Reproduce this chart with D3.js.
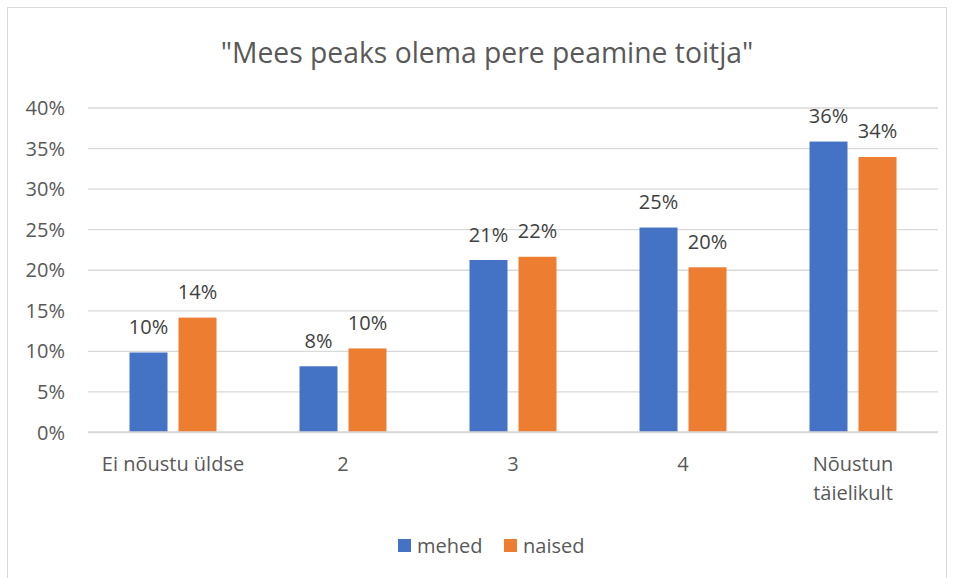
<!DOCTYPE html>
<html>
<head>
<meta charset="utf-8">
<script src="https://cdn.jsdelivr.net/npm/d3@7"></script>
<style>
  html, body { margin: 0; padding: 0; background: #fff; }
  svg { display: block; }
  text { font-family: "Open Sans", "Noto Sans", sans-serif; }
</style>
</head>
<body>
<svg id="chart" width="954" height="578"></svg>
<script>
const title = '"Mees peaks olema pere peamine toitja"';
const categories = ["Ei nõustu üldse", "2", "3", "4", "Nõustun täielikult"];
const seriesNames = ["mehed", "naised"];
const mehed = [9.8, 8.1, 21.2, 25.2, 35.8];
const naised = [14.1, 10.3, 21.6, 20.3, 33.9];
const mehedLabels = ["10%", "8%", "21%", "25%", "36%"];
const naisedLabels = ["14%", "10%", "22%", "20%", "34%"];
const yTicks = [0, 5, 10, 15, 20, 25, 30, 35, 40];
const colors = ["#4472C4", "#ED7D31"];

const svg = d3.select("#chart");
const plotL = 88, plotR = 938, plotT = 107.5, plotB = 432;
const fs = 20;

// frame
svg.append("rect").attr("x", 7.5).attr("y", 7.5).attr("width", 939).attr("height", 600)
  .attr("fill", "#fff").attr("stroke", "#D9D9D9").attr("stroke-width", 1);

const x0 = d3.scaleBand().domain(categories).range([plotL, plotR]).paddingInner(0).paddingOuter(0);
const groupW = 87;
const x1 = d3.scaleBand().domain(seriesNames)
  .range([(x0.bandwidth() - groupW) / 2, (x0.bandwidth() + groupW) / 2])
  .paddingInner(11 / 49).paddingOuter(0);
const y = d3.scaleLinear().domain([0, 40]).range([plotB, plotT]);

// gridlines + y labels
const yAxis = d3.axisLeft(y).tickValues(yTicks).tickFormat(d => d + "%")
  .tickSize(-(plotR - plotL)).tickPadding(23);
const gy = svg.append("g").attr("transform", `translate(${plotL},0)`).call(yAxis);
gy.select(".domain").remove();
gy.selectAll(".tick line").attr("stroke", "#D9D9D9").attr("stroke-width", 1.3);
gy.selectAll(".tick text").attr("fill", "#595959").attr("font-size", fs)
  .attr("font-family", '"Open Sans", sans-serif').attr("dy", "0.35em");

// bars
const seriesData = [mehed, naised];
const seriesLabels = [mehedLabels, naisedLabels];
seriesNames.forEach((s, si) => {
  const g = svg.append("g");
  g.selectAll("rect").data(categories).join("rect")
    .attr("x", c => x0(c) + x1(s))
    .attr("width", x1.bandwidth())
    .attr("y", (c, i) => y(seriesData[si][i]))
    .attr("height", (c, i) => plotB - y(seriesData[si][i]))
    .attr("fill", colors[si]);
  g.selectAll("text").data(categories).join("text")
    .attr("x", c => x0(c) + x1(s) + x1.bandwidth() / 2)
    .attr("y", (c, i) => y(seriesData[si][i]) - 18.5)
    .attr("text-anchor", "middle")
    .attr("font-size", fs)
    .attr("fill", "#404040")
    .text((c, i) => seriesLabels[si][i]);
});

// x axis baseline
svg.append("line").attr("x1", plotL).attr("x2", plotR).attr("y1", plotB).attr("y2", plotB)
  .attr("stroke", "#D9D9D9").attr("stroke-width", 1.3);

// category labels
const xl = svg.append("g");
categories.forEach(c => {
  const words = c === "Nõustun täielikult" ? ["Nõustun", "täielikult"] : [c];
  const cx = x0(c) + x0.bandwidth() / 2;
  const t = xl.append("text")
    .attr("x", cx)
    .attr("y", 471)
    .attr("text-anchor", "middle")
    .attr("font-size", fs)
    .attr("fill", "#595959");
  words.forEach((w, i) => {
    t.append("tspan").attr("x", cx).attr("dy", i === 0 ? 0 : 29).text(w);
  });
});

// title
svg.append("text").attr("x", 487).attr("y", 63).attr("text-anchor", "middle")
  .attr("font-size", 28.3).attr("fill", "#595959").text(title);

// legend
const legend = svg.append("g");
const legendItems = [
  { name: seriesNames[0], color: colors[0], x: 398 },
  { name: seriesNames[1], color: colors[1], x: 504 }
];
legendItems.forEach(li => {
  legend.append("rect").attr("x", li.x).attr("y", 539).attr("width", 13).attr("height", 13).attr("fill", li.color);
  legend.append("text").attr("x", li.x + 19).attr("y", 553).attr("font-size", fs).attr("fill", "#595959").text(li.name);
});
</script>
</body>
</html>
